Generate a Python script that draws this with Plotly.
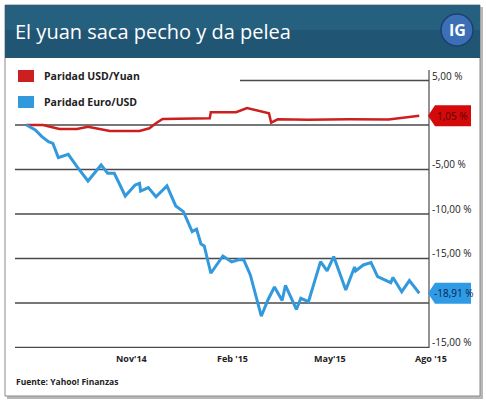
import plotly.graph_objects as go

# ---- data ----
euro_dates = ['2014-07-28', '2014-08-05', '2014-08-11', '2014-08-17', '2014-08-21', '2014-08-26',
              '2014-09-04', '2014-09-12', '2014-09-22', '2014-10-04', '2014-10-10', '2014-10-16',
              '2014-10-26', '2014-11-04', '2014-11-08', '2014-11-09', '2014-11-16', '2014-11-23',
              '2014-12-03', '2014-12-11', '2014-12-18', '2014-12-26', '2014-12-30', '2015-01-03',
              '2015-01-06', '2015-01-12', '2015-01-23', '2015-01-31', '2015-02-07', '2015-02-11',
              '2015-02-17', '2015-02-27', '2015-03-05', '2015-03-11', '2015-03-18', '2015-03-21',
              '2015-03-31', '2015-04-04', '2015-04-11', '2015-04-22', '2015-04-28', '2015-05-04',
              '2015-05-15', '2015-05-20', '2015-05-23', '2015-05-24', '2015-05-31', '2015-06-07',
              '2015-06-13', '2015-06-25', '2015-06-27', '2015-07-05', '2015-07-12', '2015-07-21']
euro_usd = [0.0, -0.56, -1.31, -1.88, -2.06, -3.67,
            -3.29, -4.69, -6.29, -4.49, -5.43, -5.43,
            -7.98, -6.74, -6.55, -7.42, -7.04, -8.06,
            -6.85, -9.10, -9.74, -11.99, -11.72, -13.37,
            -13.60, -16.66, -14.72, -15.39, -15.11, -15.17,
            -16.85, -21.49, -19.66, -18.20, -19.72, -18.03,
            -20.73, -19.47, -19.85, -15.36, -16.40, -14.78,
            -18.54, -16.97, -15.96, -16.40, -15.73, -15.47,
            -17.04, -17.72, -17.13, -18.73, -17.49, -18.91]

yuan_dates = ['2014-07-28', '2014-08-12', '2014-08-27', '2014-09-12', '2014-09-22', '2014-10-03',
              '2014-10-12', '2014-11-08', '2014-11-17', '2014-11-23', '2014-11-29', '2015-01-11',
              '2015-01-12', '2015-02-04', '2015-02-14', '2015-03-06', '2015-03-08', '2015-03-14',
              '2015-04-11', '2015-05-18', '2015-06-23', '2015-07-21']
usd_yuan = [0.0, 0.0, -0.45, -0.45, -0.19, -0.45,
            -0.67, -0.67, -0.37, 0.19, 0.67, 0.75,
            1.43, 1.43, 1.91, 1.31, 0.26, 0.64,
            0.58, 0.64, 0.61, 1.05]

y_ticks = [5, 0, -5, -10, -15, -20, -25]
y_tick_text = ['5,00 %', '', '-5,00 %', '-10,00 %', '-15,00 %', '', '-15,00 %']
x_ticks = ['2014-11-01', '2015-02-01', '2015-05-01', '2015-08-01']
x_tick_text = ["Nov'14", "Feb '15", "May'15", "Ago '15"]

RED = '#cc1f1f'
BLUE = '#3399dd'

# ---- geometry helpers (pixels -> paper) ----
W, H = 486, 400
L, R, T, B = 15, 53, 70, 52
PW, PH = W - L - R, H - T - B


def px(x):
    return (x - L) / PW


def py(y):
    return (H - B - y) / PH


AX = px(429)  # right axis line
FONT = 'Open Sans'

fig = go.Figure()
fig.add_trace(go.Scatter(x=yuan_dates, y=usd_yuan, mode='lines', name='Paridad USD/Yuan',
                         line=dict(color=RED, width=2.5), hoverinfo='skip'))
fig.add_trace(go.Scatter(x=euro_dates, y=euro_usd, mode='lines', name='Paridad Euro/USD',
                         line=dict(color=BLUE, width=3), hoverinfo='skip'))

shapes = []
# card shadow, card and title band
shapes.append(dict(type='rect', xref='paper', yref='paper', x0=px(7), x1=px(483), y0=py(399), y1=py(7),
                   line=dict(width=0), fillcolor='#b8b8b8', layer='below'))
shapes.append(dict(type='rect', xref='paper', yref='paper', x0=px(5), x1=px(480), y0=py(396), y1=py(5),
                   line=dict(color='#8a8a8a', width=1), fillcolor='white', layer='below'))
shapes.append(dict(type='rect', xref='paper', yref='paper', x0=px(5), x1=px(480), y0=py(58), y1=py(5),
                   line=dict(width=0), fillcolor='#215574', layer='below'))
shapes.append(dict(type='rect', xref='paper', yref='paper', x0=px(5), x1=px(480), y0=py(30), y1=py(5),
                   line=dict(width=0), fillcolor='#26607f', layer='below'))
# IG logo
shapes.append(dict(type='circle', xref='paper', yref='paper', x0=px(441), x1=px(473), y0=py(46), y1=py(14),
                   line=dict(color='#1d3f73', width=1.5), fillcolor='#3b6fb6'))

# grid lines
for v in y_ticks:
    shapes.append(dict(type='line', xref='paper', yref='y', x0=px(240) if v == 5 else 0, x1=AX, y0=v, y1=v,
                       line=dict(color='#4a4a4a', width=1.5), layer='below'))
# right axis line
shapes.append(dict(type='line', xref='paper', yref='paper', x0=AX, x1=AX, y0=0, y1=1,
                   line=dict(color='#4a4a4a', width=1.2), layer='below'))

# legend squares
shapes.append(dict(type='rect', xref='paper', yref='paper', x0=px(18), x1=px(34), y0=py(82), y1=py(70),
                   line=dict(width=0), fillcolor=RED))
shapes.append(dict(type='rect', xref='paper', yref='paper', x0=px(18), x1=px(34), y0=py(108), y1=py(96),
                   line=dict(width=0), fillcolor=BLUE))

# end-value badges (arrow pointing left)
badge_path = 'M -1,0 L 6,10.5 L 42,10.5 L 42,-10.5 L 6,-10.5 Z'
for last, col in [(usd_yuan[-1], '#d40a0a'), (euro_usd[-1], '#2f9be6')]:
    shapes.append(dict(type='path', xref='paper', yref='y', xsizemode='pixel', ysizemode='pixel',
                       xanchor=AX, yanchor=last, path=badge_path, fillcolor=col, line=dict(width=0)))

annotations = []
annotations.append(dict(text='El yuan saca pecho y da pelea', xref='paper', yref='paper', x=px(13), y=py(32),
                        xanchor='left', yanchor='middle', showarrow=False,
                        font=dict(family=FONT, size=20, color='white')))
annotations.append(dict(text='<b>IG</b>', xref='paper', yref='paper', x=px(457), y=py(30),
                        xanchor='center', yanchor='middle', showarrow=False,
                        font=dict(family=FONT, size=16, color='white')))
annotations.append(dict(text='<b>Paridad USD/Yuan</b>', xref='paper', yref='paper', x=px(42), y=py(76),
                        xanchor='left', yanchor='middle', showarrow=False,
                        font=dict(family=FONT, size=10.5, color='#222')))
annotations.append(dict(text='<b>Paridad Euro/USD</b>', xref='paper', yref='paper', x=px(42), y=py(102),
                        xanchor='left', yanchor='middle', showarrow=False,
                        font=dict(family=FONT, size=10.5, color='#222')))
for v, t in zip(y_ticks, y_tick_text):
    if t:
        annotations.append(dict(text=t, xref='paper', yref='y', x=AX, y=v, xanchor='left', yanchor='middle',
                                xshift=1, yshift=5, showarrow=False,
                                font=dict(family=FONT, size=10, color='#1a1a1a')))
for d, t in zip(x_ticks, x_tick_text):
    annotations.append(dict(text='<b>' + t + '</b>', xref='x', yref='paper', x=d, y=py(358),
                            xanchor='center', yanchor='middle', showarrow=False,
                            font=dict(family=FONT, size=9, color='#222')))
annotations.append(dict(text=('%.2f' % usd_yuan[-1]).replace('.', ',') + ' %', xref='paper', yref='y',
                        x=AX, y=usd_yuan[-1], xanchor='left', yanchor='middle', xshift=6, showarrow=False,
                        font=dict(family=FONT, size=10, color='#5a0000')))
annotations.append(dict(text=('%.2f' % euro_usd[-1]).replace('.', ',') + ' %', xref='paper', yref='y',
                        x=AX, y=euro_usd[-1], xanchor='left', yanchor='middle', xshift=3, showarrow=False,
                        font=dict(family=FONT, size=10, color='#08244f')))
annotations.append(dict(text='<b>Fuente: Yahoo! Finanzas</b>', xref='paper', yref='paper', x=px(14), y=py(381),
                        xanchor='left', yanchor='middle', showarrow=False,
                        font=dict(family=FONT, size=8.5, color='#222')))

fig.update_layout(
    width=W, height=H,
    margin=dict(l=L, r=R, t=T, b=B),
    paper_bgcolor='white', plot_bgcolor='rgba(0,0,0,0)',
    showlegend=False,
    xaxis=dict(type='date', range=['2014-07-17 12:00', '2015-08-02 12:00'], showgrid=False,
               showticklabels=False, zeroline=False, showline=False, fixedrange=True),
    yaxis=dict(range=[-25.06, 6.18], showgrid=False, showticklabels=False, zeroline=False,
               showline=False, fixedrange=True),
    shapes=shapes, annotations=annotations,
)

# the page's default body margin would shift the figure by 8px
fig.write_html('out.html', config={'displayModeBar': False},
               post_script="document.body.style.margin='0';")
